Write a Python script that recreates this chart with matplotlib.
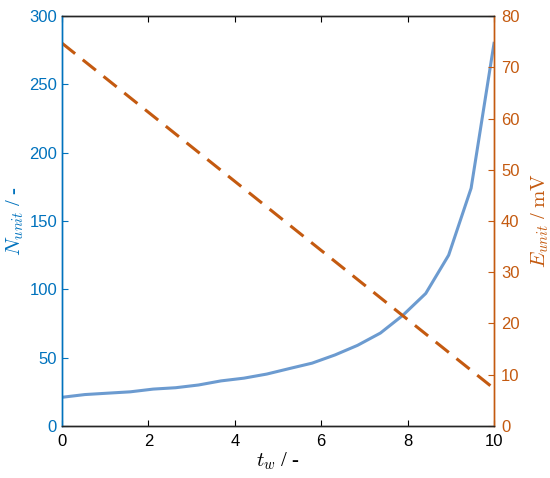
import numpy as np
import matplotlib
matplotlib.use('Agg')
import matplotlib.pyplot as plt

plt.rcParams['font.family'] = 'Liberation Sans'
plt.rcParams['mathtext.fontset'] = 'cm'

# data
t_w = [0, 0.53, 1.05, 1.58, 2.11, 2.63, 3.16, 3.68, 4.21, 4.74,
       5.26, 5.79, 6.32, 6.84, 7.37, 7.89, 8.42, 8.95, 9.47, 10]
n_unit = [21, 23, 24, 25, 27, 28, 30, 33, 35, 38,
          42, 46, 52, 59, 68, 81, 97, 125, 174, 280]
e_t = [0, 10]
e_unit = [74.7, 7.3]

blue_ax = '#0072BD'
blue_ln = '#6C9BD0'
orange = '#C45A10'

fig = plt.figure(figsize=(5.5, 4.78), dpi=100)
ax = fig.add_axes([0.1127, 0.1088, 0.7855, 0.8577])
ax2 = ax.twinx()

ax.plot(t_w, n_unit, color=blue_ln, lw=2.2)
ax2.plot(e_t, e_unit, color=orange, lw=2.2, dashes=(5.5, 3.2))

ax.set_xlim(0, 10)
ax.set_ylim(0, 300)
ax2.set_ylim(0, 80)
ax.set_xticks([0, 2, 4, 6, 8, 10])
ax.set_yticks(np.arange(0, 301, 50))
ax2.set_yticks(np.arange(0, 81, 10))

ax.tick_params(axis='x', direction='in', top=True, length=4, labelsize=12, pad=6)
ax.tick_params(axis='y', direction='in', length=4, colors=blue_ax, labelsize=12)
ax2.tick_params(axis='y', direction='in', length=4, colors=orange, labelsize=12, pad=5)

for a in (ax, ax2):
    a.spines['left'].set_color(blue_ax)
    a.spines['right'].set_color(orange)
    a.spines['top'].set_color('#262626')
    a.spines['bottom'].set_color('#262626')
    for s in a.spines.values():
        s.set_linewidth(1.0)

ax.set_xlabel(r'$t_w$ / -', fontsize=15, fontfamily='Liberation Serif', labelpad=1)
ax.set_ylabel(r'$N_{unit}$ / -', fontsize=15, color=blue_ax,
              fontfamily='Liberation Serif', labelpad=2)
ax2.set_ylabel(r'$E_{unit}$ / $\mathrm{mV}$', fontsize=15, color=orange,
               fontfamily='Liberation Serif', labelpad=7)

fig.savefig('out.png', dpi=100)
